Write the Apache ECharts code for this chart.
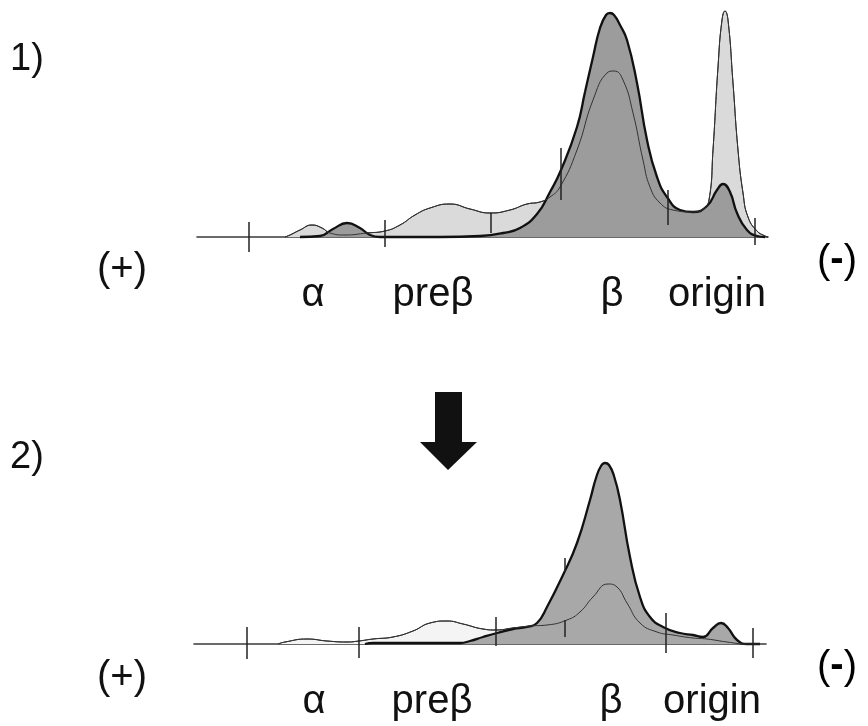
<!DOCTYPE html>
<html>
<head>
<meta charset="utf-8">
<script src="https://cdn.jsdelivr.net/npm/echarts@6/dist/echarts.min.js"></script>
<style>
  html, body { margin: 0; padding: 0; background: #fff; }
  #chart { width: 868px; height: 726px; }
</style>
</head>
<body>
<div id="chart"></div>
<script>
// migration distance (arbitrary units) vs. density

// panel 1) - before
var p1Dark = [
  [110, 0], [130, 1], [143, 8], [157, 14], [170, 9], [180, 2], [190, 0],
  [250, 0], [290, 1], [313, 4], [330, 9], [347, 23], [360, 45], [371, 67],
  [387, 110], [395, 145], [403, 180], [410, 209], [416, 222], [420, 224],
  [424, 222], [430, 212], [437, 197], [447, 154], [457, 97], [467, 60],
  [477, 40], [490, 27], [503, 25], [517, 31], [527, 47], [533, 53], [540, 45],
  [547, 24], [557, 7], [567, 1], [575, 0]
]
var p1Light = [
  [95, 0], [100, 2], [110, 7], [122, 12], [132, 9], [140, 4], [155, 2],
  [177, 4], [195, 6], [210, 12], [225, 22], [240, 29], [260, 33], [280, 28],
  [300, 24], [320, 27], [337, 33], [350, 35], [360, 40], [370, 50], [387, 87],
  [403, 137], [417, 164], [424, 166], [433, 157], [443, 124], [453, 77],
  [460, 50], [470, 34], [483, 27], [503, 25], [513, 28], [519, 37], [523, 87],
  [528, 170], [532, 217], [535, 226], [538, 217], [543, 154], [548, 87],
  [553, 44], [558, 20], [567, 6], [575, 1], [578, 0]
]
// [position, from, to]
var p1Ticks = [
  [59, 15, -15], [195, 17, -10], [565, 19, -8],
  [301, 24, 4], [371, 89, 37], [478, 47, 12]
]

// panel 2) - after
var p2Dark = [
  [175, 0], [183, 1], [240, 1], [270, 1], [280, 3], [293, 7], [307, 11],
  [323, 15], [337, 17], [347, 21], [357, 37], [373, 69], [387, 101], [400, 144],
  [406, 166], [411, 178], [415, 181], [419, 179], [424, 168], [430, 144],
  [440, 87], [450, 47], [460, 27], [473, 17], [490, 11], [503, 9], [513, 7],
  [523, 16], [531, 21], [538, 16], [547, 4], [557, 0], [570, 0]
]
var p2Light = [
  [88, 0], [95, 2], [117, 5], [137, 3], [157, 2], [169, 3], [183, 5],
  [203, 7], [223, 13], [240, 21], [257, 23], [273, 20], [293, 15], [306, 14],
  [323, 16], [340, 18], [357, 19], [377, 24], [390, 32], [403, 47], [418, 60],
  [427, 57], [437, 41], [450, 21], [467, 12], [483, 9], [503, 6], [517, 5],
  [537, 2], [557, 0], [570, 0]
]
var p2Ticks = [
  [57, 17, -15], [169, 17, -14], [306, 27, -2], [476, 31, -9], [563, 16, -14],
  [375, 86, 72], [375, 24, 7]
]

var bandNames = ['α', 'preβ', 'β', 'origin']
var p1BandPos = [123, 243, 422, 527]
var p2BandPos = [124, 242, 421, 522]

var FONT = '"Liberation Sans", Arial, Helvetica, sans-serif'

function xAxisFor(idx, min, max, bandPos) {
  return {
    type: 'value', gridIndex: idx, min: min, max: max,
    splitLine: { show: false },
    axisTick: { show: false },
    axisLine: { onZero: true, lineStyle: { color: '#3a3a3a', width: 1.6 } },
    axisLabel: {
      customValues: bandPos,
      formatter: function (v) { return bandNames[bandPos.indexOf(v)] },
      margin: 18, fontSize: 40, color: '#111', fontFamily: FONT
    }
  }
}
function yAxisFor(idx) {
  return { type: 'value', gridIndex: idx, min: -20, max: 230, show: false }
}

function panelSeries(idx, dark, light, ticks, lightFill, darkFill) {
  return [
    {
      type: 'line', xAxisIndex: idx, yAxisIndex: idx, data: light, z: 1,
      smooth: 0.5, symbol: 'none',
      lineStyle: { color: '#222', width: 1 },
      areaStyle: { color: lightFill, opacity: 1 }
    },
    {
      type: 'line', xAxisIndex: idx, yAxisIndex: idx, data: dark, z: 2,
      smooth: 0.5, symbol: 'none',
      lineStyle: { color: '#111', width: 2.3 },
      areaStyle: { color: darkFill, opacity: 1 }
    },
    {
      type: 'line', xAxisIndex: idx, yAxisIndex: idx, data: light, z: 3,
      smooth: 0.5, symbol: 'none',
      lineStyle: { color: '#333', width: 1 },
      markLine: {
        silent: true, symbol: ['none', 'none'], animation: false,
        label: { show: false },
        lineStyle: { color: '#222', type: 'solid', width: 1.5 },
        data: ticks.map(function (t) {
          return [{ coord: [t[0], t[1]] }, { coord: [t[0], t[2]] }]
        })
      }
    }
  ]
}

var chart = echarts.init(document.getElementById('chart'), null, { renderer: 'canvas' })

function txt(str, x, y, size) {
  return {
    type: 'text', x: x, y: y,
    style: { text: str, fontSize: size, fontFamily: FONT, fill: '#111', align: 'center', verticalAlign: 'middle' }
  }
}
function minusSign(x, y) {
  return {
    type: 'text', x: x, y: y,
    style: {
      text: '{p|(}{d|-}{p|)}', align: 'center', verticalAlign: 'middle',
      rich: {
        p: { fontSize: 40, fontFamily: FONT, color: '#111', lineHeight: 44 },
        d: { fontSize: 40, fontFamily: FONT, fontWeight: 'bold', color: '#111', lineHeight: 14, verticalAlign: 'top' }
      }
    }
  }
}

chart.setOption({
  animation: false,
  backgroundColor: '#fff',
  grid: [
    { left: 197, top: 7, width: 571, height: 250, outerBoundsMode: 'none', containLabel: false },
    { left: 194, top: 414, width: 572, height: 250, outerBoundsMode: 'none', containLabel: false }
  ],
  xAxis: [xAxisFor(0, 7, 578, p1BandPos), xAxisFor(1, 4, 576, p2BandPos)],
  yAxis: [yAxisFor(0), yAxisFor(1)],
  series: panelSeries(0, p1Dark, p1Light, p1Ticks, '#dadada', '#9c9c9c')
    .concat(panelSeries(1, p2Dark, p2Light, p2Ticks, '#f4f4f4', '#a8a8a8')),
  graphic: [
    txt('1)', 27, 60, 38),
    txt('2)', 27, 458, 38),
    txt('(+)', 122, 270, 40),
    txt('(+)', 122, 678, 40),
    minusSign(837, 262),
    minusSign(837, 668),
    {
      type: 'polygon',
      shape: { points: [[435, 392], [462, 392], [462, 442], [477, 442], [448, 470], [420, 442], [435, 442]] },
      style: { fill: '#111' }
    }
  ]
})
</script>
</body>
</html>
